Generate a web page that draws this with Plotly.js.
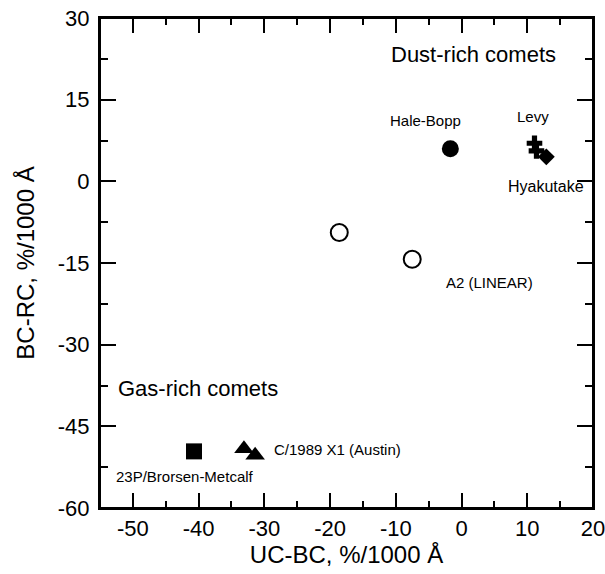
<!DOCTYPE html>
<html>
<head>
<meta charset="utf-8">
<script src="https://cdn.plot.ly/plotly-3.0.1.min.js"></script>
<style>html,body{margin:0;padding:0;background:#fff;}#chart{width:605px;height:574px;}</style>
</head>
<body>
<div id="chart"></div>
<script>
// Data (UC-BC, BC-RC in %/1000 Å)
var haleBoppX = [-1.7];
var haleBoppY = [6.0];
var levyX = [11.1, 11.4];
var levyY = [7.0, 5.6];
var hyakutakeX = [12.9];
var hyakutakeY = [4.5];
var linearX = [-18.6, -7.5];
var linearY = [-9.4, -14.3];
var brorsenX = [-40.7];
var brorsenY = [-49.6];
var austinX = [-33.1, -31.4];
var austinY = [-49.1, -50.3];

var xTickVals = [-50, -40, -30, -20, -10, 0, 10, 20];
var yTickVals = [-60, -45, -30, -15, 0, 15, 30];
var xRange = [-55, 20.001];
var yRange = [-60, 30.001];

var FONT = 'Arial, "Liberation Sans", Helvetica, sans-serif';

function pts(x, y, symbol, size, open) {
  return {
    type: 'scatter', mode: 'markers', x: x, y: y, hoverinfo: 'skip', cliponaxis: false,
    marker: open ? {symbol: symbol, size: size, color: '#ffffff', line: {color: '#000', width: 2}}
                 : {symbol: symbol, size: size, color: '#000', line: {width: 0}}
  };
}

var data = [
  pts(haleBoppX, haleBoppY, 'circle', 17, false),
  pts(levyX, levyY, 'cross', 13, false),
  pts(hyakutakeX, hyakutakeY, 'diamond', 13, false),
  pts(linearX, linearY, 'circle', 17, true),
  pts(brorsenX, brorsenY, 'square', 16, false),
  pts(austinX, austinY, 'triangle-up', 17, false),
  // invisible copy on the top/right axes so their ticks are drawn
  {type: 'scatter', mode: 'markers', x: haleBoppX, y: haleBoppY, xaxis: 'x2', yaxis: 'y2',
   hoverinfo: 'skip', opacity: 0, marker: {size: 1, color: 'rgba(0,0,0,0)'}}
];

function ann(text, x, y, size, xanchor) {
  return {text: text, x: x, y: y, xref: 'x', yref: 'y', showarrow: false,
    xanchor: xanchor || 'center', yanchor: 'middle', font: {family: FONT, size: size, color: '#000'}};
}

function tickAxis(base) {
  var o = {
    ticks: 'inside', tickwidth: 2, tickcolor: '#000',
    showline: true, linecolor: '#000', linewidth: 2,
    showgrid: false, zeroline: false
  };
  for (var k in base) o[k] = base[k];
  return o;
}

var layout = {
  width: 605, height: 574,
  margin: {l: 100, r: 12, t: 18, b: 66},
  paper_bgcolor: '#fff', plot_bgcolor: '#fff',
  showlegend: false,
  font: {family: FONT, color: '#000'},
  xaxis: tickAxis({
    range: xRange, tickvals: xTickVals, ticktext: xTickVals.map(String), ticklen: 15,
    minor: {dtick: 5, tick0: 0, ticks: 'inside', ticklen: 7, tickwidth: 2, tickcolor: '#000'},
    mirror: 'allticks',
    tickfont: {family: FONT, size: 22, color: '#000'},
    ticklabelstandoff: 0, ticklabeloverflow: 'allow',
    title: {text: 'UC-BC, %/1000 Å', font: {family: FONT, size: 24, color: '#000'}, standoff: 4}
  }),
  yaxis: tickAxis({
    range: yRange, tickvals: yTickVals, ticktext: yTickVals.map(String), ticklen: 16,
    minor: {dtick: 7.5, tick0: 0, ticks: 'inside', ticklen: 8, tickwidth: 2, tickcolor: '#000'},
    mirror: 'allticks',
    tickfont: {family: FONT, size: 22, color: '#000'},
    ticklabelstandoff: 4, ticklabeloverflow: 'allow',
    title: {text: 'BC-RC, %/1000 Å', font: {family: FONT, size: 24, color: '#000'}, standoff: 16}
  }),
  xaxis2: tickAxis({
    overlaying: 'x', side: 'top', anchor: 'y2',
    range: xRange, tickvals: xTickVals, ticklen: 15, showticklabels: false,
    minor: {dtick: 5, tick0: 0, ticks: 'inside', ticklen: 7, tickwidth: 2, tickcolor: '#000'}
  }),
  yaxis2: tickAxis({
    overlaying: 'y', side: 'right', anchor: 'x2',
    range: yRange, tickvals: yTickVals, ticklen: 16, showticklabels: false,
    minor: {dtick: 7.5, tick0: 0, ticks: 'inside', ticklen: 8, tickwidth: 2, tickcolor: '#000'}
  }),
  shapes: [
    {type: 'rect', xref: 'paper', yref: 'paper', x0: 0, x1: 1, y0: 0, y1: 1,
     line: {color: '#000', width: 2}, fillcolor: 'rgba(0,0,0,0)', layer: 'above'}
  ],
  annotations: [
    ann('Dust-rich comets', -11.1, 23.3, 22, 'left'),
    ann('Hale-Bopp', -5.5, 11.2, 15),
    ann('Levy', 10.8, 11.9, 15),
    ann('Hyakutake', 12.8, -0.9, 16),
    ann('A2 (LINEAR)', 4.3, -18.5, 15),
    ann('Gas-rich comets', -52.5, -38.0, 22, 'left'),
    ann('C/1989 X1 (Austin)', -28.8, -49.2, 15, 'left'),
    ann('23P/Brorsen-Metcalf', -52.8, -54.2, 15, 'left')
  ]
};

Plotly.newPlot('chart', data, layout, {displayModeBar: false, staticPlot: true});
</script>
</body>
</html>
